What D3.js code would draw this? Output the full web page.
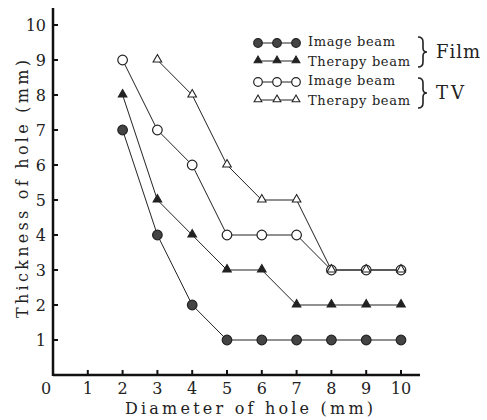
<!DOCTYPE html>
<html><head><meta charset="utf-8">
<script src="https://cdn.jsdelivr.net/npm/d3@7"></script>
<style>body{margin:0;background:#fff}svg{display:block}text{font-family:"DejaVu Serif","Liberation Serif",serif;fill:#222}</style>
</head><body>
<script>
const xTicks = [0,1,2,3,4,5,6,7,8,9,10];
const yTicks = [1,2,3,4,5,6,7,8,9,10];
const filmImageX = [2,3,4,5,6,7,8,9,10];
const filmImageY = [7,4,2,1,1,1,1,1,1];
const filmTherapyX = [2,3,4,5,6,7,8,9,10];
const filmTherapyY = [8,5,4,3,3,2,2,2,2];
const tvImageX = [2,3,4,5,6,7,8,9,10];
const tvImageY = [9,7,6,4,4,4,3,3,3];
const tvTherapyX = [3,4,5,6,7,8,9,10];
const tvTherapyY = [9,8,6,5,5,3,3,3];
const legendLabels = ["Image beam","Therapy beam","Image beam","Therapy beam"];
const groupLabels = ["Film","TV"];

const W=487,H=420;
const svg=d3.select("body").append("svg").attr("width",W).attr("height",H);
const x=d3.scaleLinear().domain([0,10]).range([53,401]);
const y=d3.scaleLinear().domain([0,10]).range([375,25]);

// axes
svg.append("line").attr("x1",x(0)).attr("x2",420).attr("y1",y(0)).attr("y2",y(0)).attr("stroke","#111").attr("stroke-width",2.5);
svg.append("line").attr("x1",x(0)).attr("x2",x(0)).attr("y1",y(0)+1).attr("y2",8).attr("stroke","#111").attr("stroke-width",2.5);
svg.selectAll(".xt").data(xTicks.filter(d=>d>0)).enter().append("line")
  .attr("x1",d=>x(d)).attr("x2",d=>x(d)).attr("y1",y(0)).attr("y2",y(0)-5).attr("stroke","#111").attr("stroke-width",2);
svg.selectAll(".yt").data(yTicks).enter().append("line")
  .attr("x1",x(0)).attr("x2",x(0)+5).attr("y1",d=>y(d)).attr("y2",d=>y(d)).attr("stroke","#111").attr("stroke-width",2);
svg.selectAll(".xl").data(xTicks).enter().append("text")
  .attr("x",d=>d===0?46:x(d)).attr("y",394).attr("text-anchor","middle").attr("font-size",16).text(d=>d);
svg.selectAll(".yl").data(yTicks).enter().append("text")
  .attr("x",46).attr("y",d=>y(d)+6).attr("text-anchor","end").attr("font-size",16).text(d=>d);

svg.append("text").attr("x",249).attr("y",414).attr("text-anchor","middle").attr("font-size",16)
  .attr("textLength",248).attr("lengthAdjust","spacing").text("Diameter of hole (mm)");
svg.append("text").attr("transform","translate(28,189) rotate(-90)").attr("text-anchor","middle").attr("font-size",16)
  .attr("textLength",258).attr("lengthAdjust","spacing").text("Thickness of hole (mm)");

const series=[
  {xs:filmImageX,ys:filmImageY,shape:"circle",fill:"#444"},
  {xs:filmTherapyX,ys:filmTherapyY,shape:"tri",fill:"#222"},
  {xs:tvImageX,ys:tvImageY,shape:"circle",fill:"#fff"},
  {xs:tvTherapyX,ys:tvTherapyY,shape:"tri",fill:"#fff"}
];
const line=d3.line().x(d=>x(d[0])).y(d=>y(d[1]));
function marker(g,cx,cy,s,r,ts){
  if(s.shape==="circle") g.append("circle").attr("cx",cx).attr("cy",cy).attr("r",r).attr("fill",s.fill).attr("stroke","#222").attr("stroke-width",1.2);
  else g.append("path").attr("d",d3.symbol().type(d3.symbolTriangle).size(ts)()).attr("transform",`translate(${cx},${cy-0.5})`).attr("fill",s.fill).attr("stroke","#222").attr("stroke-width",1.1);
}
series.forEach(s=>{
  const pts=s.xs.map((v,i)=>[v,s.ys[i]]);
  svg.append("path").attr("d",line(pts)).attr("fill","none").attr("stroke","#222").attr("stroke-width",1);
});
series.forEach(s=>{
  const g=svg.append("g");
  s.xs.forEach((v,i)=>marker(g,x(v),y(s.ys[i]),s,4.8,32));
});

// legend
const rowsY=[43,61,82,100];
series.forEach((s,i)=>{
  const g=svg.append("g");
  g.append("line").attr("x1",258).attr("x2",296).attr("y1",rowsY[i]).attr("y2",rowsY[i]).attr("stroke","#222");
  [258,277,296].forEach(cx=>marker(g,cx,rowsY[i],s,4.3,26));
  svg.append("text").attr("x",308).attr("y",rowsY[i]+(i%2?5:3)).attr("font-size",13)
    .attr("textLength",i%2?102:87).attr("lengthAdjust","spacing").text(legendLabels[i]);
});
function brace(cx,cy,h){
  const t=h/2;
  svg.append("path").attr("d",`M${cx-4},${cy-t} Q${cx+1},${cy-t} ${cx+1},${cy-t+5} L${cx+1},${cy-4} Q${cx+1},${cy} ${cx+5},${cy} Q${cx+1},${cy} ${cx+1},${cy+4} L${cx+1},${cy+t-5} Q${cx+1},${cy+t} ${cx-4},${cy+t}`)
    .attr("fill","none").attr("stroke","#222").attr("stroke-width",1.6);
}
brace(422,52,30);
brace(422,93,30);
svg.append("text").attr("x",436).attr("y",58).attr("font-size",18).attr("textLength",44).attr("lengthAdjust","spacing").text(groupLabels[0]);
svg.append("text").attr("x",436).attr("y",99).attr("font-size",18).attr("textLength",28).attr("lengthAdjust","spacing").text(groupLabels[1]);
</script>
</body></html>
